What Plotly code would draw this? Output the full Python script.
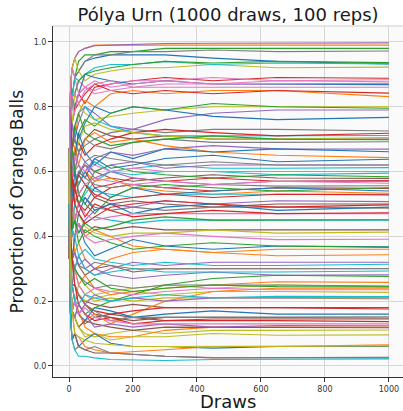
import plotly.graph_objects as go

draws = [0, 1, 3, 6, 10, 18, 30, 50, 80, 130, 200, 300, 450, 650, 1000]

reps_blue = [
    [0.50, 0.67, 0.80, 0.88, 0.83, 0.89, 0.91, 0.94, 0.95, 0.96, 0.96, 0.96, 0.95, 0.94, 0.932],
    [0.50, 0.67, 0.60, 0.75, 0.83, 0.80, 0.84, 0.90, 0.89, 0.88, 0.87, 0.88, 0.87, 0.87, 0.868],
    [0.50, 0.33, 0.60, 0.50, 0.67, 0.74, 0.70, 0.75, 0.80, 0.78, 0.80, 0.79, 0.77, 0.76, 0.767],
    [0.50, 0.67, 0.80, 0.75, 0.58, 0.65, 0.72, 0.66, 0.62, 0.66, 0.64, 0.67, 0.66, 0.67, 0.661],
    [0.50, 0.33, 0.40, 0.50, 0.58, 0.55, 0.60, 0.58, 0.64, 0.61, 0.62, 0.64, 0.65, 0.63, 0.638],
    [0.50, 0.67, 0.60, 0.63, 0.50, 0.60, 0.53, 0.50, 0.55, 0.52, 0.55, 0.53, 0.54, 0.55, 0.540],
    [0.50, 0.33, 0.40, 0.38, 0.42, 0.40, 0.47, 0.52, 0.48, 0.50, 0.47, 0.49, 0.50, 0.48, 0.490],
    [0.50, 0.67, 0.40, 0.38, 0.33, 0.40, 0.44, 0.38, 0.34, 0.36, 0.39, 0.37, 0.36, 0.37, 0.368],
    [0.50, 0.33, 0.20, 0.25, 0.17, 0.20, 0.16, 0.14, 0.18, 0.17, 0.15, 0.16, 0.17, 0.16, 0.160],
    [0.50, 0.33, 0.20, 0.13, 0.08, 0.10, 0.06, 0.08, 0.10, 0.07, 0.06, 0.06, 0.055, 0.06, 0.060],
]
reps_orange = [
    [0.50, 0.67, 0.80, 0.88, 0.92, 0.95, 0.97, 0.98, 0.99, 0.99, 0.99, 0.99, 0.99, 0.99, 0.990],
    [0.50, 0.33, 0.60, 0.63, 0.75, 0.70, 0.78, 0.82, 0.80, 0.84, 0.85, 0.84, 0.85, 0.85, 0.831],
    [0.50, 0.67, 0.60, 0.50, 0.58, 0.68, 0.62, 0.70, 0.72, 0.69, 0.70, 0.68, 0.66, 0.65, 0.643],
    [0.50, 0.33, 0.40, 0.50, 0.42, 0.50, 0.56, 0.60, 0.57, 0.58, 0.55, 0.54, 0.53, 0.54, 0.533],
    [0.50, 0.67, 0.60, 0.50, 0.42, 0.35, 0.38, 0.33, 0.30, 0.33, 0.35, 0.36, 0.35, 0.36, 0.360],
    [0.50, 0.33, 0.40, 0.38, 0.33, 0.40, 0.44, 0.40, 0.42, 0.40, 0.37, 0.36, 0.35, 0.34, 0.343],
    [0.50, 0.33, 0.20, 0.25, 0.33, 0.30, 0.25, 0.28, 0.24, 0.22, 0.23, 0.24, 0.25, 0.26, 0.258],
    [0.50, 0.67, 0.40, 0.25, 0.17, 0.15, 0.12, 0.14, 0.16, 0.13, 0.16, 0.20, 0.23, 0.24, 0.240],
    [0.50, 0.33, 0.40, 0.25, 0.25, 0.20, 0.17, 0.12, 0.10, 0.09, 0.09, 0.11, 0.12, 0.12, 0.120],
    [0.50, 0.33, 0.20, 0.13, 0.17, 0.10, 0.09, 0.06, 0.05, 0.04, 0.045, 0.05, 0.06, 0.06, 0.065],
]
reps_green = [
    [0.50, 0.67, 0.80, 0.88, 0.83, 0.89, 0.94, 0.96, 0.96, 0.97, 0.97, 0.98, 0.98, 0.98, 0.980],
    [0.50, 0.67, 0.80, 0.75, 0.83, 0.84, 0.88, 0.90, 0.91, 0.92, 0.93, 0.94, 0.935, 0.94, 0.936],
    [0.50, 0.33, 0.60, 0.63, 0.67, 0.63, 0.72, 0.76, 0.74, 0.78, 0.80, 0.79, 0.81, 0.80, 0.795],
    [0.50, 0.67, 0.60, 0.75, 0.67, 0.74, 0.78, 0.72, 0.70, 0.68, 0.69, 0.70, 0.71, 0.70, 0.698],
    [0.50, 0.33, 0.40, 0.38, 0.50, 0.55, 0.50, 0.54, 0.60, 0.62, 0.60, 0.59, 0.58, 0.59, 0.584],
    [0.50, 0.67, 0.60, 0.63, 0.67, 0.60, 0.53, 0.50, 0.47, 0.52, 0.55, 0.56, 0.55, 0.54, 0.550],
    [0.50, 0.33, 0.40, 0.50, 0.42, 0.45, 0.41, 0.44, 0.42, 0.43, 0.45, 0.46, 0.45, 0.45, 0.451],
    [0.50, 0.67, 0.60, 0.50, 0.42, 0.45, 0.38, 0.42, 0.40, 0.38, 0.36, 0.37, 0.38, 0.37, 0.366],
    [0.50, 0.33, 0.20, 0.25, 0.17, 0.15, 0.19, 0.16, 0.18, 0.20, 0.22, 0.25, 0.27, 0.28, 0.276],
    [0.50, 0.67, 0.40, 0.38, 0.33, 0.30, 0.28, 0.25, 0.27, 0.24, 0.23, 0.24, 0.25, 0.245, 0.244],
]
reps_red = [
    [0.50, 0.67, 0.80, 0.75, 0.83, 0.79, 0.84, 0.81, 0.86, 0.87, 0.88, 0.89, 0.88, 0.89, 0.888],
    [0.50, 0.67, 0.60, 0.75, 0.75, 0.79, 0.81, 0.84, 0.87, 0.85, 0.84, 0.85, 0.84, 0.85, 0.842],
    [0.50, 0.33, 0.40, 0.50, 0.58, 0.65, 0.69, 0.65, 0.68, 0.70, 0.72, 0.73, 0.72, 0.71, 0.718],
    [0.50, 0.67, 0.80, 0.75, 0.67, 0.60, 0.56, 0.60, 0.55, 0.56, 0.58, 0.57, 0.58, 0.57, 0.572],
    [0.50, 0.33, 0.40, 0.38, 0.42, 0.45, 0.50, 0.48, 0.52, 0.55, 0.56, 0.55, 0.54, 0.55, 0.548],
    [0.50, 0.67, 0.60, 0.50, 0.58, 0.55, 0.59, 0.56, 0.53, 0.51, 0.52, 0.53, 0.52, 0.53, 0.528],
    [0.50, 0.33, 0.60, 0.63, 0.58, 0.50, 0.47, 0.44, 0.46, 0.49, 0.50, 0.51, 0.50, 0.49, 0.497],
    [0.50, 0.67, 0.40, 0.38, 0.50, 0.55, 0.50, 0.46, 0.50, 0.48, 0.46, 0.47, 0.48, 0.47, 0.473],
    [0.50, 0.33, 0.20, 0.25, 0.25, 0.25, 0.22, 0.19, 0.17, 0.16, 0.17, 0.18, 0.18, 0.18, 0.176],
    [0.50, 0.33, 0.40, 0.38, 0.33, 0.25, 0.19, 0.16, 0.14, 0.15, 0.13, 0.14, 0.14, 0.14, 0.137],
]
reps_purple = [
    [0.50, 0.67, 0.80, 0.88, 0.92, 0.95, 0.97, 0.98, 0.988, 0.99, 0.993, 0.995, 0.996, 0.997, 0.997],
    [0.50, 0.67, 0.60, 0.63, 0.75, 0.70, 0.75, 0.80, 0.78, 0.74, 0.73, 0.76, 0.78, 0.79, 0.790],
    [0.50, 0.33, 0.40, 0.50, 0.58, 0.60, 0.56, 0.60, 0.64, 0.66, 0.65, 0.67, 0.68, 0.67, 0.669],
    [0.50, 0.67, 0.80, 0.63, 0.67, 0.60, 0.66, 0.63, 0.60, 0.62, 0.63, 0.61, 0.62, 0.62, 0.620],
    [0.50, 0.33, 0.40, 0.50, 0.50, 0.55, 0.60, 0.62, 0.58, 0.60, 0.58, 0.57, 0.56, 0.57, 0.570],
    [0.50, 0.67, 0.60, 0.50, 0.42, 0.45, 0.41, 0.45, 0.48, 0.50, 0.49, 0.51, 0.50, 0.51, 0.507],
    [0.50, 0.33, 0.40, 0.38, 0.33, 0.30, 0.34, 0.30, 0.28, 0.30, 0.32, 0.31, 0.32, 0.32, 0.320],
    [0.50, 0.67, 0.40, 0.38, 0.33, 0.35, 0.31, 0.33, 0.30, 0.28, 0.27, 0.28, 0.29, 0.28, 0.281],
    [0.50, 0.33, 0.20, 0.25, 0.25, 0.20, 0.16, 0.19, 0.22, 0.20, 0.21, 0.20, 0.21, 0.21, 0.210],
    [0.50, 0.33, 0.20, 0.13, 0.17, 0.15, 0.19, 0.16, 0.12, 0.13, 0.12, 0.13, 0.12, 0.125, 0.124],
]
reps_brown = [
    [0.50, 0.67, 0.60, 0.63, 0.67, 0.70, 0.66, 0.70, 0.73, 0.71, 0.70, 0.71, 0.70, 0.70, 0.700],
    [0.50, 0.33, 0.40, 0.50, 0.58, 0.55, 0.59, 0.62, 0.60, 0.58, 0.57, 0.58, 0.59, 0.58, 0.579],
    [0.50, 0.67, 0.60, 0.63, 0.58, 0.50, 0.53, 0.56, 0.52, 0.50, 0.51, 0.50, 0.49, 0.50, 0.500],
    [0.50, 0.33, 0.40, 0.38, 0.42, 0.40, 0.44, 0.41, 0.43, 0.42, 0.43, 0.42, 0.42, 0.42, 0.420],
    [0.50, 0.33, 0.20, 0.25, 0.33, 0.35, 0.31, 0.28, 0.30, 0.31, 0.29, 0.30, 0.30, 0.30, 0.300],
    [0.50, 0.67, 0.40, 0.38, 0.25, 0.25, 0.22, 0.20, 0.19, 0.18, 0.19, 0.18, 0.18, 0.18, 0.180],
    [0.50, 0.33, 0.40, 0.25, 0.25, 0.20, 0.22, 0.19, 0.16, 0.15, 0.14, 0.15, 0.15, 0.15, 0.148],
    [0.50, 0.33, 0.20, 0.25, 0.17, 0.20, 0.16, 0.13, 0.15, 0.16, 0.15, 0.14, 0.145, 0.145, 0.145],
    [0.50, 0.67, 0.40, 0.25, 0.17, 0.15, 0.12, 0.14, 0.13, 0.12, 0.11, 0.12, 0.12, 0.12, 0.118],
    [0.50, 0.33, 0.20, 0.13, 0.08, 0.10, 0.06, 0.05, 0.04, 0.04, 0.035, 0.03, 0.025, 0.026, 0.027],
]
reps_pink = [
    [0.50, 0.67, 0.80, 0.75, 0.83, 0.84, 0.88, 0.86, 0.85, 0.87, 0.88, 0.88, 0.89, 0.88, 0.883],
    [0.50, 0.67, 0.60, 0.75, 0.75, 0.79, 0.84, 0.86, 0.88, 0.86, 0.87, 0.88, 0.87, 0.88, 0.877],
    [0.50, 0.33, 0.60, 0.75, 0.83, 0.84, 0.81, 0.85, 0.87, 0.88, 0.86, 0.87, 0.87, 0.87, 0.872],
    [0.50, 0.67, 0.80, 0.88, 0.92, 0.89, 0.84, 0.86, 0.84, 0.85, 0.86, 0.86, 0.86, 0.86, 0.860],
    [0.50, 0.67, 0.60, 0.63, 0.58, 0.65, 0.62, 0.60, 0.62, 0.60, 0.61, 0.60, 0.60, 0.60, 0.600],
    [0.50, 0.33, 0.40, 0.50, 0.50, 0.55, 0.53, 0.56, 0.58, 0.57, 0.56, 0.57, 0.56, 0.57, 0.564],
    [0.50, 0.67, 0.60, 0.50, 0.50, 0.45, 0.50, 0.47, 0.45, 0.46, 0.47, 0.47, 0.47, 0.47, 0.470],
    [0.50, 0.33, 0.40, 0.38, 0.42, 0.40, 0.44, 0.40, 0.38, 0.39, 0.40, 0.41, 0.40, 0.39, 0.391],
    [0.50, 0.33, 0.20, 0.25, 0.33, 0.30, 0.25, 0.22, 0.24, 0.23, 0.22, 0.23, 0.24, 0.235, 0.235],
    [0.50, 0.67, 0.40, 0.25, 0.17, 0.20, 0.16, 0.18, 0.15, 0.14, 0.13, 0.13, 0.13, 0.13, 0.130],
]
reps_gray = [
    [0.50, 0.67, 0.80, 0.88, 0.92, 0.89, 0.91, 0.94, 0.96, 0.96, 0.97, 0.97, 0.975, 0.97, 0.972],
    [0.50, 0.67, 0.60, 0.63, 0.67, 0.70, 0.66, 0.68, 0.70, 0.72, 0.73, 0.72, 0.73, 0.73, 0.725],
    [0.50, 0.33, 0.40, 0.50, 0.58, 0.60, 0.66, 0.70, 0.68, 0.67, 0.69, 0.70, 0.69, 0.69, 0.692],
    [0.50, 0.67, 0.60, 0.63, 0.58, 0.55, 0.59, 0.63, 0.65, 0.64, 0.63, 0.62, 0.63, 0.62, 0.620],
    [0.50, 0.33, 0.60, 0.63, 0.67, 0.60, 0.62, 0.58, 0.56, 0.55, 0.56, 0.55, 0.56, 0.555, 0.556],
    [0.50, 0.67, 0.40, 0.50, 0.50, 0.45, 0.50, 0.52, 0.49, 0.48, 0.49, 0.48, 0.49, 0.49, 0.487],
    [0.50, 0.33, 0.40, 0.38, 0.33, 0.35, 0.31, 0.30, 0.32, 0.31, 0.30, 0.30, 0.30, 0.30, 0.301],
    [0.50, 0.33, 0.40, 0.25, 0.25, 0.30, 0.28, 0.26, 0.24, 0.25, 0.24, 0.25, 0.25, 0.25, 0.247],
    [0.50, 0.67, 0.40, 0.38, 0.33, 0.25, 0.22, 0.19, 0.17, 0.14, 0.15, 0.15, 0.15, 0.15, 0.152],
    [0.50, 0.33, 0.20, 0.13, 0.08, 0.05, 0.06, 0.05, 0.06, 0.04, 0.035, 0.03, 0.026, 0.025, 0.025],
]
reps_olive = [
    [0.50, 0.67, 0.80, 0.88, 0.92, 0.95, 0.91, 0.88, 0.90, 0.91, 0.92, 0.92, 0.93, 0.92, 0.922],
    [0.50, 0.67, 0.60, 0.75, 0.75, 0.84, 0.81, 0.78, 0.76, 0.77, 0.78, 0.79, 0.80, 0.80, 0.800],
    [0.50, 0.33, 0.40, 0.50, 0.58, 0.65, 0.69, 0.74, 0.75, 0.73, 0.72, 0.71, 0.70, 0.70, 0.705],
    [0.50, 0.67, 0.60, 0.50, 0.42, 0.45, 0.47, 0.43, 0.41, 0.40, 0.41, 0.41, 0.42, 0.41, 0.413],
    [0.50, 0.33, 0.40, 0.38, 0.33, 0.30, 0.28, 0.25, 0.22, 0.23, 0.24, 0.25, 0.24, 0.25, 0.245],
    [0.50, 0.33, 0.20, 0.25, 0.25, 0.25, 0.22, 0.20, 0.21, 0.22, 0.23, 0.22, 0.23, 0.23, 0.227],
    [0.50, 0.67, 0.40, 0.25, 0.25, 0.20, 0.25, 0.22, 0.20, 0.21, 0.20, 0.21, 0.21, 0.21, 0.207],
    [0.50, 0.33, 0.20, 0.25, 0.17, 0.15, 0.12, 0.10, 0.09, 0.10, 0.11, 0.10, 0.11, 0.11, 0.111],
    [0.50, 0.33, 0.40, 0.25, 0.17, 0.15, 0.12, 0.09, 0.10, 0.08, 0.09, 0.09, 0.10, 0.095, 0.096],
    [0.50, 0.67, 0.40, 0.25, 0.17, 0.10, 0.09, 0.08, 0.07, 0.065, 0.06, 0.06, 0.06, 0.06, 0.062],
]
reps_cyan = [
    [0.50, 0.67, 0.80, 0.75, 0.83, 0.89, 0.88, 0.90, 0.92, 0.93, 0.93, 0.94, 0.93, 0.935, 0.932],
    [0.50, 0.33, 0.60, 0.63, 0.67, 0.74, 0.78, 0.80, 0.76, 0.74, 0.72, 0.71, 0.71, 0.71, 0.711],
    [0.50, 0.67, 0.60, 0.63, 0.58, 0.55, 0.50, 0.53, 0.57, 0.60, 0.61, 0.62, 0.61, 0.61, 0.612],
    [0.50, 0.33, 0.40, 0.50, 0.58, 0.60, 0.56, 0.60, 0.63, 0.60, 0.59, 0.60, 0.60, 0.59, 0.595],
    [0.50, 0.67, 0.60, 0.50, 0.50, 0.55, 0.59, 0.56, 0.54, 0.53, 0.52, 0.53, 0.53, 0.53, 0.530],
    [0.50, 0.33, 0.40, 0.38, 0.42, 0.50, 0.47, 0.44, 0.46, 0.45, 0.44, 0.45, 0.45, 0.45, 0.450],
    [0.50, 0.67, 0.40, 0.38, 0.33, 0.30, 0.34, 0.36, 0.33, 0.32, 0.31, 0.32, 0.31, 0.31, 0.314],
    [0.50, 0.33, 0.40, 0.38, 0.42, 0.40, 0.34, 0.30, 0.28, 0.29, 0.30, 0.29, 0.29, 0.29, 0.293],
    [0.50, 0.33, 0.20, 0.25, 0.25, 0.20, 0.19, 0.22, 0.21, 0.20, 0.21, 0.22, 0.21, 0.215, 0.214],
    [0.50, 0.33, 0.20, 0.13, 0.08, 0.05, 0.03, 0.03, 0.025, 0.02, 0.018, 0.017, 0.02, 0.021, 0.022],
]

x_ticks = [0, 200, 400, 600, 800, 1000]
y_ticks = [0.0, 0.2, 0.4, 0.6, 0.8, 1.0]

groups = [
    (reps_blue, "#1f77b4"), (reps_orange, "#ff7f0e"), (reps_green, "#2ca02c"),
    (reps_red, "#d62728"), (reps_purple, "#9467bd"), (reps_brown, "#8c564b"),
    (reps_pink, "#e377c2"), (reps_gray, "#7f7f7f"), (reps_olive, "#bcbd22"),
    (reps_cyan, "#17becf"),
]

fig = go.Figure()
for i in range(10):
    for reps, color in groups:
        fig.add_trace(go.Scatter(
            x=draws, y=reps[i], mode="lines",
            line=dict(color=color, width=1.1),
            showlegend=False, hoverinfo="skip",
        ))

font_family = "DejaVu Sans"
fig.update_layout(
    width=403, height=411,
    margin=dict(l=53, r=0, t=26, b=34, autoexpand=False),
    paper_bgcolor="white",
    plot_bgcolor="#fafafa",
    font=dict(family=font_family, color="#262626"),
    title=dict(text="Pólya Urn (1000 draws, 100 reps)", x=0.566, xanchor="center",
               y=0.965, yanchor="middle", font=dict(size=18, color="#1a1a1a")),
    xaxis=dict(
        range=[-50, 1044], tickvals=x_ticks, ticktext=[str(v) for v in x_ticks],
        showgrid=True, gridcolor="#d6d6d6", gridwidth=1, zeroline=False,
        showline=True, linecolor="#333333", linewidth=1,
        ticks="outside", ticklen=4, tickcolor="#333333",
        tickfont=dict(size=8, color="#333333"), automargin=False,
    ),
    yaxis=dict(
        range=[-0.034, 1.049], tickvals=y_ticks, ticktext=[f"{v:.1f}" for v in y_ticks],
        showgrid=True, gridcolor="#d6d6d6", gridwidth=1, zeroline=False,
        showline=True, linecolor="#333333", linewidth=1,
        ticks="outside", ticklen=4, tickcolor="#333333",
        tickfont=dict(size=8, color="#333333"), automargin=False,
    ),
    annotations=[
        dict(text="Draws", xref="paper", yref="paper", x=0.5, y=-0.0685,
             xanchor="center", yanchor="middle", showarrow=False, borderpad=0,
             font=dict(size=18, color="#1a1a1a")),
        dict(text="Proportion of Orange Balls", xref="paper", yref="paper", x=-0.103, y=0.5,
             xanchor="center", yanchor="middle", textangle=-90, showarrow=False,
             font=dict(size=17, color="#1a1a1a")),
    ],
    shapes=[dict(type="line", xref="paper", yref="paper", x0=0, x1=1, y0=1, y1=1,
                 line=dict(color="#cccccc", width=1))],
)

fig.write_html("out.html")
